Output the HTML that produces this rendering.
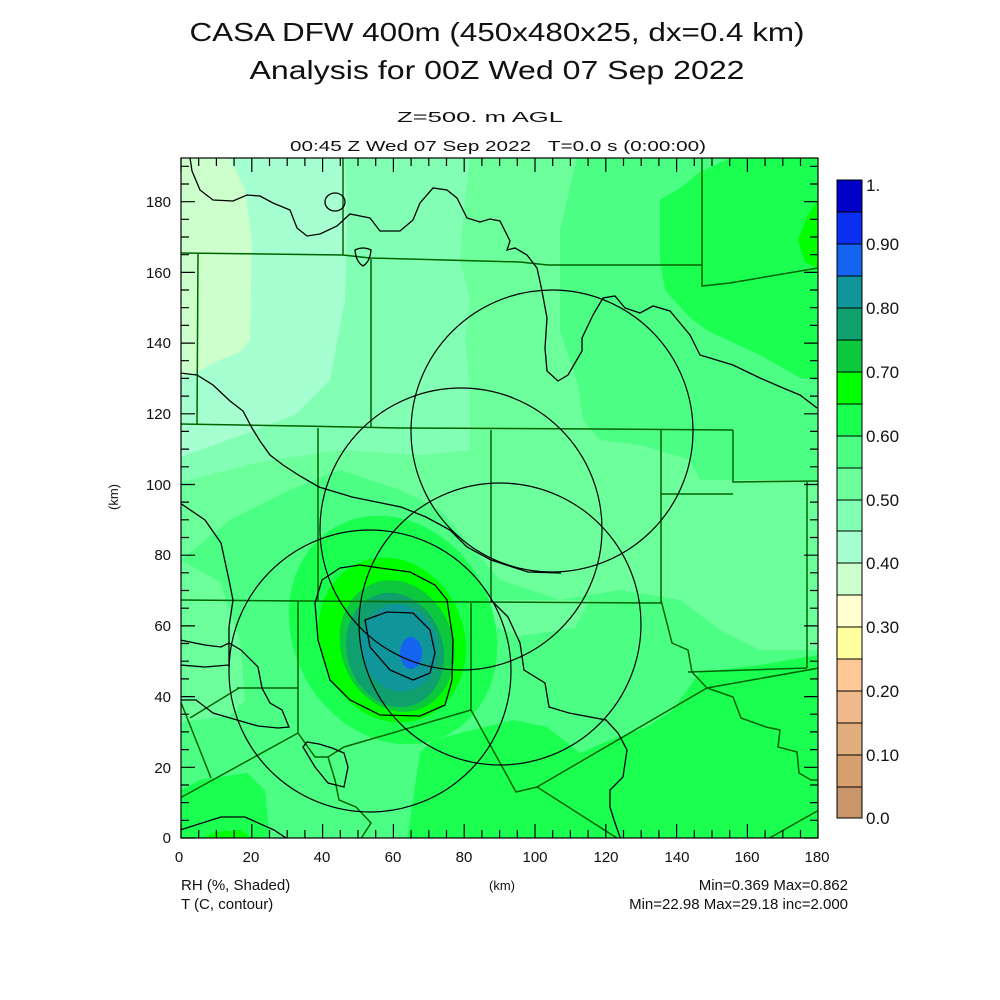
<!DOCTYPE html>
<html><head><meta charset="utf-8"><style>
html,body{margin:0;padding:0;background:#fff;}
svg{display:block;}
text{font-family:"Liberation Sans",sans-serif;fill:#111;white-space:pre;}
</style></head><body>
<svg width="1000" height="1000" viewBox="0 0 1000 1000" xmlns="http://www.w3.org/2000/svg">
<rect width="1000" height="1000" fill="#fff"/>
<text x="497" y="41" font-size="26" text-anchor="middle" textLength="615" lengthAdjust="spacingAndGlyphs">CASA DFW 400m (450x480x25, dx=0.4 km)</text>
<text x="497" y="79" font-size="26" text-anchor="middle" textLength="495" lengthAdjust="spacingAndGlyphs">Analysis for 00Z Wed 07 Sep 2022</text>
<text x="480" y="122" font-size="15" text-anchor="middle" textLength="166" lengthAdjust="spacingAndGlyphs">Z=500. m AGL</text>
<text x="498" y="151" font-size="15" text-anchor="middle" textLength="416" lengthAdjust="spacingAndGlyphs" xml:space="preserve">00:45 Z Wed 07 Sep 2022   T=0.0 s (0:00:00)</text>

<defs><clipPath id="pc"><rect x="181" y="158" width="637" height="680"/></clipPath></defs>
<g clip-path="url(#pc)">
<rect x="181" y="158" width="637" height="680" fill="#6cff9c"/>
<path d="M181,158 L470,158 L465,200 L460,260 L470,300 L465,340 L470,390 L470,450 L420,455 L340,450 L260,462 L181,482 Z" fill="#82ffb4"/>
<path d="M181,158 L345,158 L347,220 L345,300 L330,380 L295,415 L250,432 L181,457 Z" fill="#a6ffd0"/>
<path d="M181,158 L230,158 L245,190 L252,240 L250,340 L240,352 L215,362 L198,372 L181,376 Z" fill="#ccffcc"/>
<path d="M577,158 L818,158 L818,480 L700,480 L690,460 L640,445 L600,440 L583,420 L578,385 L560,330 L560,230 Z" fill="#4cff84"/>
<path d="M660,200 L680,188 L700,172 L730,158 L818,158 L818,380 L800,378 L760,355 L710,332 L690,318 L665,290 L660,260 Z" fill="#1aff50"/>
<path d="M818,200 L808,215 L798,240 L805,262 L818,268 Z" fill="#00ff00"/>
<path d="M181,560 L230,520 L290,490 L340,470 L400,490 L440,510 L470,545 L500,580 L560,600 L620,590 L680,600 L720,630 L760,650 L818,650 L818,840 L181,840 Z" fill="#4cff84"/>
<path d="M181,560 L220,582 L240,640 L245,700 L230,716 L181,722 Z" fill="#6cff9c"/>
<path d="M480,600 L590,600 L575,628 L520,636 L490,625 Z" fill="#6cff9c"/>
<path d="M181,790 L200,780 L247,773 L265,790 L270,840 L181,840 Z" fill="#1aff50"/>
<path d="M407,840 L420,753 L433,740 L513,720 L547,727 L580,753 L610,740 L647,727 L673,710 L700,672 L760,665 L818,655 L818,840 Z" fill="#1aff50"/>
<path d="M200,840 L215,832 L240,830 L255,840 Z" fill="#00ff00"/>
<ellipse cx="393" cy="630" rx="100" ry="118" transform="rotate(-28 393 630)" fill="#1aff50"/>
<ellipse cx="392" cy="640" rx="72" ry="84" transform="rotate(-22 392 640)" fill="#00ff00"/>
<ellipse cx="397" cy="646" rx="56" ry="67" transform="rotate(-20 397 646)" fill="#0cc83c"/>
<ellipse cx="395" cy="650" rx="48" ry="58" transform="rotate(-18 395 650)" fill="#0fa06e"/>
<ellipse cx="399" cy="648" rx="38" ry="44" transform="rotate(-15 399 648)" fill="#10969a"/>
<ellipse cx="411" cy="653" rx="11" ry="16" fill="#1464f0"/>

<g fill="none" stroke="#006400" stroke-width="1.5">
<polyline points="181,253 343,255 370,258 520,262 548,265 702,265"/>
<polyline points="343,158 343,255"/>
<polyline points="702,158 702,286 730,283 818,268"/>
<polyline points="371,259 371,428"/>
<polyline points="198,254 197,424"/>
<polyline points="181,424 300,426 400,428 600,429 733,430"/>
<polyline points="733,430 733,482 818,481"/>
<polyline points="661,430 661,603"/>
<polyline points="661,494 733,494"/>
<polyline points="807,482 807,668"/>
<polyline points="318,428 318,602"/>
<polyline points="491,430 491,603"/>
<polyline points="181,600 299,601 661,603"/>
<polyline points="471,603 471,710"/>
<polyline points="298,601 298,733"/>
<polyline points="237,688 298,688"/>
<polyline points="190,718 239,688"/>
<polyline points="180,798 298,733"/>
<polyline points="298,733 315,757 328,757 344,747 471,710"/>
<polyline points="471,710 516,792 537,787 707,688 819,668"/>
<polyline points="537,787 620,840"/>
<polyline points="661,600 672,643 688,650 692,672 707,688 733,697 741,718 766,727 780,730 778,747 797,752 799,773 811,780 819,780"/>
<polyline points="688,672 807,668"/>
<polyline points="766,840 819,810"/>
<polyline points="180,700 211,778"/>
<polyline points="328,757 335,780 339,800 356,807 371,823 360,840"/>
</g>
<g fill="none" stroke="#000" stroke-width="1.2">
<circle cx="552" cy="431" r="141"/>
<circle cx="461" cy="529" r="141"/>
<circle cx="500" cy="624" r="141"/>
<circle cx="370" cy="671" r="141"/>
</g>
<g fill="none" stroke="#000" stroke-width="1.3">
<polyline points="190,158 192,171 200,190 213,200 233,201 247,195 260,196 273,203 290,210 297,228 307,236 320,234 337,226 350,214 370,218 380,231 400,231 413,220 420,203 433,188 447,190 457,198 467,218 480,222 490,219 500,221 510,241 507,250 515,248 527,255 537,268 542,291 547,318 545,348 547,371 558,381 568,375 582,351 582,338 593,315 603,298 615,296 625,308 640,313 653,306 670,311 690,335 700,355 733,365 760,378 783,388 800,395 817,408"/>
<ellipse cx="335" cy="202" rx="10" ry="9"/>
<path d="M355,250 Q363,246 371,250 Q370,262 363,266 Q356,262 355,250 Z"/>
<polyline points="180,373 197,375 213,385 230,401 243,411 252,428 260,441 270,455 283,465 300,476 319,487 352,497 401,507 426,517 450,530 467,547 491,560 528,572 561,573"/>
<polyline points="180,503 205,520 221,543 229,580 233,600 229,627 229,667"/>
<polyline points="180,640 205,645 221,647 229,643 241,650 258,667 262,688 270,703 282,710 289,727 278,728 258,726 237,720 213,713 196,700 180,700"/>
<polyline points="180,665 205,667 229,665"/>
<path d="M303,747 L307,742 L319,744 L332,748 L344,753 L348,767 L344,787 L328,783 L315,767 Z"/>
<polyline points="180,830 221,817 245,817 274,830 289,840"/>
<polyline points="491,600 508,617 520,643 524,670 545,683 549,707 569,713 606,720 618,733 627,750 623,777 610,790 610,807 614,820 621,840"/>
<path d="M315,603 L322,580 L340,568 L360,565 L380,568 L410,572 L435,585 L447,600 L453,640 L452,680 L445,705 L420,716 L380,715 L350,700 L330,680 L318,640 Z"/>
<path d="M365,620 L387,612 L413,613 L430,630 L435,653 L430,673 L413,680 L390,670 L370,647 Z"/>
</g>
</g>
<rect x="181" y="158" width="637" height="680" fill="none" stroke="#000" stroke-width="1.2"/>
<g stroke="#000" stroke-width="1.2">
<path d="
M181,838v-14 M198.7,838v-8 M216.4,838v-8 M234.1,838v-8 M251.8,838v-14 M269.5,838v-8 M287.2,838v-8 M304.9,838v-8 M322.6,838v-14 M340.3,838v-8 M358,838v-8 M375.7,838v-8 M393.4,838v-14 M411.1,838v-8 M428.8,838v-8 M446.5,838v-8 M464.2,838v-14 M481.9,838v-8 M499.6,838v-8 M517.3,838v-8 M535,838v-14 M552.7,838v-8 M570.4,838v-8 M588.1,838v-8 M605.8,838v-14 M623.5,838v-8 M641.2,838v-8 M658.9,838v-8 M676.6,838v-14 M694.3,838v-8 M712,838v-8 M729.7,838v-8 M747.4,838v-14 M765.1,838v-8 M782.8,838v-8 M800.5,838v-8 M818,838v-14
M181,158v14 M198.7,158v8 M216.4,158v8 M234.1,158v8 M251.8,158v14 M269.5,158v8 M287.2,158v8 M304.9,158v8 M322.6,158v14 M340.3,158v8 M358,158v8 M375.7,158v8 M393.4,158v14 M411.1,158v8 M428.8,158v8 M446.5,158v8 M464.2,158v14 M481.9,158v8 M499.6,158v8 M517.3,158v8 M535,158v14 M552.7,158v8 M570.4,158v8 M588.1,158v8 M605.8,158v14 M623.5,158v8 M641.2,158v8 M658.9,158v8 M676.6,158v14 M694.3,158v8 M712,158v8 M729.7,158v8 M747.4,158v14 M765.1,158v8 M782.8,158v8 M800.5,158v8
M181,838h14 M181,820.3h8 M181,802.6h8 M181,785h8 M181,767.3h14 M181,749.6h8 M181,731.9h8 M181,714.2h8 M181,696.6h14 M181,678.9h8 M181,661.2h8 M181,643.5h8 M181,625.9h14 M181,608.2h8 M181,590.5h8 M181,572.8h8 M181,555.2h14 M181,537.5h8 M181,519.8h8 M181,502.1h8 M181,484.5h14 M181,466.8h8 M181,449.1h8 M181,431.4h8 M181,413.8h14 M181,396.1h8 M181,378.4h8 M181,360.7h8 M181,343.1h14 M181,325.4h8 M181,307.7h8 M181,290h8 M181,272.4h14 M181,254.7h8 M181,237h8 M181,219.3h8 M181,201.7h14 M181,184h8 M181,166.3h8
M818,838h-14 M818,820.3h-8 M818,802.6h-8 M818,785h-8 M818,767.3h-14 M818,749.6h-8 M818,731.9h-8 M818,714.2h-8 M818,696.6h-14 M818,678.9h-8 M818,661.2h-8 M818,643.5h-8 M818,625.9h-14 M818,608.2h-8 M818,590.5h-8 M818,572.8h-8 M818,555.2h-14 M818,537.5h-8 M818,519.8h-8 M818,502.1h-8 M818,484.5h-14 M818,466.8h-8 M818,449.1h-8 M818,431.4h-8 M818,413.8h-14 M818,396.1h-8 M818,378.4h-8 M818,360.7h-8 M818,343.1h-14 M818,325.4h-8 M818,307.7h-8 M818,290h-8 M818,272.4h-14 M818,254.7h-8 M818,237h-8 M818,219.3h-8 M818,201.7h-14 M818,184h-8 M818,166.3h-8"/>
</g>
<g font-size="15">
<g text-anchor="end">
<text x="171" y="843">0</text><text x="171" y="773">20</text><text x="171" y="702">40</text><text x="171" y="631">60</text><text x="171" y="560">80</text><text x="171" y="490">100</text><text x="171" y="419">120</text><text x="171" y="348">140</text><text x="171" y="278">160</text><text x="171" y="207">180</text>
</g>
<g text-anchor="middle">
<text x="179" y="862">0</text><text x="251" y="862">20</text><text x="322" y="862">40</text><text x="393" y="862">60</text><text x="464" y="862">80</text><text x="535" y="862">100</text><text x="606" y="862">120</text><text x="677" y="862">140</text><text x="747" y="862">160</text><text x="817" y="862">180</text>
</g>
<text x="118" y="497" font-size="13" text-anchor="middle" transform="rotate(-90 118 497)">(km)</text>
<text x="502" y="890" font-size="13" text-anchor="middle">(km)</text>
<text x="181" y="890">RH (%, Shaded)</text>
<text x="181" y="909">T (C, contour)</text>
<text x="848" y="890" text-anchor="end">Min=0.369 Max=0.862</text>
<text x="848" y="909" text-anchor="end">Min=22.98 Max=29.18 inc=2.000</text>
</g>
<g stroke="#000" stroke-width="1">
<rect x="837" y="180" width="25" height="32" fill="#0000c8"/>
<rect x="837" y="212" width="25" height="32" fill="#0a2ff0"/>
<rect x="837" y="244" width="25" height="32" fill="#1464f0"/>
<rect x="837" y="276" width="25" height="32" fill="#10969a"/>
<rect x="837" y="308" width="25" height="32" fill="#0fa06e"/>
<rect x="837" y="340" width="25" height="32" fill="#0cc83c"/>
<rect x="837" y="372" width="25" height="32" fill="#00ff00"/>
<rect x="837" y="404" width="25" height="32" fill="#1aff50"/>
<rect x="837" y="436" width="25" height="32" fill="#4cff84"/>
<rect x="837" y="468" width="25" height="32" fill="#6cff9c"/>
<rect x="837" y="500" width="25" height="31" fill="#82ffb4"/>
<rect x="837" y="531" width="25" height="32" fill="#a6ffd0"/>
<rect x="837" y="563" width="25" height="32" fill="#ccffcc"/>
<rect x="837" y="595" width="25" height="32" fill="#ffffd2"/>
<rect x="837" y="627" width="25" height="32" fill="#ffffa0"/>
<rect x="837" y="659" width="25" height="32" fill="#ffc896"/>
<rect x="837" y="691" width="25" height="32" fill="#f0b98c"/>
<rect x="837" y="723" width="25" height="32" fill="#e1af7d"/>
<rect x="837" y="755" width="25" height="32" fill="#d7a06e"/>
<rect x="837" y="787" width="25" height="31" fill="#c8966a"/>
</g>
<g font-size="17">
<text x="866" y="191">1.</text>
<text x="866" y="250">0.90</text>
<text x="866" y="314">0.80</text>
<text x="866" y="378">0.70</text>
<text x="866" y="442">0.60</text>
<text x="866" y="506">0.50</text>
<text x="866" y="569">0.40</text>
<text x="866" y="633">0.30</text>
<text x="866" y="697">0.20</text>
<text x="866" y="761">0.10</text>
<text x="866" y="824">0.0</text>
</g>
</svg>
</body></html>
